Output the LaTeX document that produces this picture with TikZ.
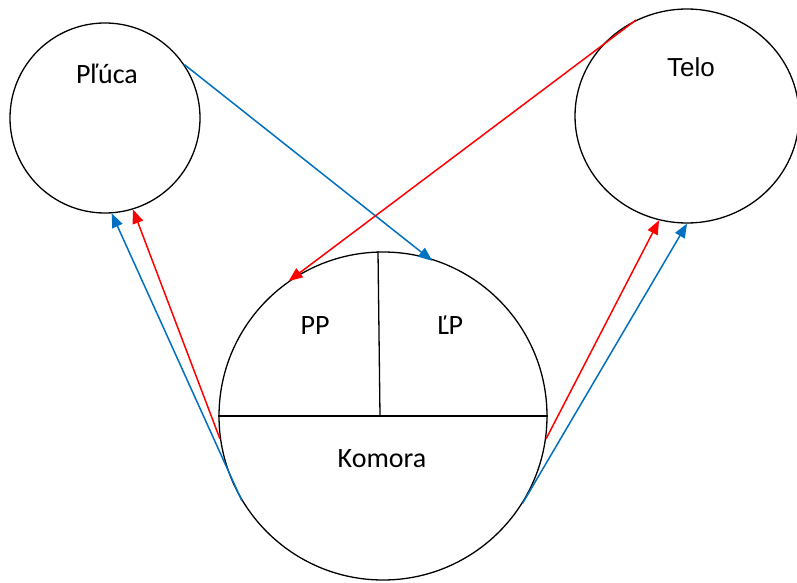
\documentclass[tikz,border=0pt]{standalone}
\usepackage{fontspec}
\setmainfont{Carlito}
\newfontfamily\telofont{Liberation Sans}
\usetikzlibrary{arrows.meta,shapes.geometric}
\definecolor{FlowRed}{RGB}{255,0,0}
\definecolor{FlowBlue}{RGB}{0,112,192}
\tikzset{
  organ/.style={draw,line width=1.3pt,inner sep=0pt},
  lbl/.style={anchor=base,inner sep=0pt,font=\fontsize{28}{33}\selectfont},
  flow/.style={line width=1.5pt,-{Triangle[length=14pt,width=11pt]}}
}
\begin{document}
\begin{tikzpicture}[x=1pt,y=-1pt]
  \useasboundingbox (0,0) rectangle (797,583);
  % organs
  \node[organ,circle,minimum size=190pt] (pluca) at (105,118) {};
  \node[organ,ellipse,minimum width=224pt,minimum height=214pt] (telo) at (687,116) {};
  \node[organ,circle,minimum size=328pt] (komora) at (383,416) {};
  \draw[line width=1.3pt] (komora.west) -- (komora.east);
  \draw[line width=1.3pt] ([xshift=-5pt]komora.north) -- ([xshift=-3pt]komora.center);
  % labels
  \node[lbl] (tpluca) at (107,84) {Pľúca};
  \node[lbl,font=\telofont\fontsize{26}{31}\selectfont] (ttelo) at (691,77) {Telo};
  \node[lbl] (tpp) at (315,334) {PP};
  \node[lbl] (tlp) at (450,334) {ĽP};
  \node[lbl] (tkomora) at (382,467) {Komora};
  % flows
  \draw[flow,FlowBlue,shorten >=-5pt] (pluca.34) -- (komora.74);
  \draw[flow,FlowRed] (telo.118) -- (komora.125);
  \draw[flow,FlowBlue] (komora.211) -- (pluca.-86);
  \draw[flow,FlowRed] (komora.188) -- (pluca.-73);
  \draw[flow,FlowRed] (komora.-8) -- (telo.-105);
  \draw[flow,FlowBlue] (komora.-32) -- (telo.-90);
\end{tikzpicture}
\end{document}
